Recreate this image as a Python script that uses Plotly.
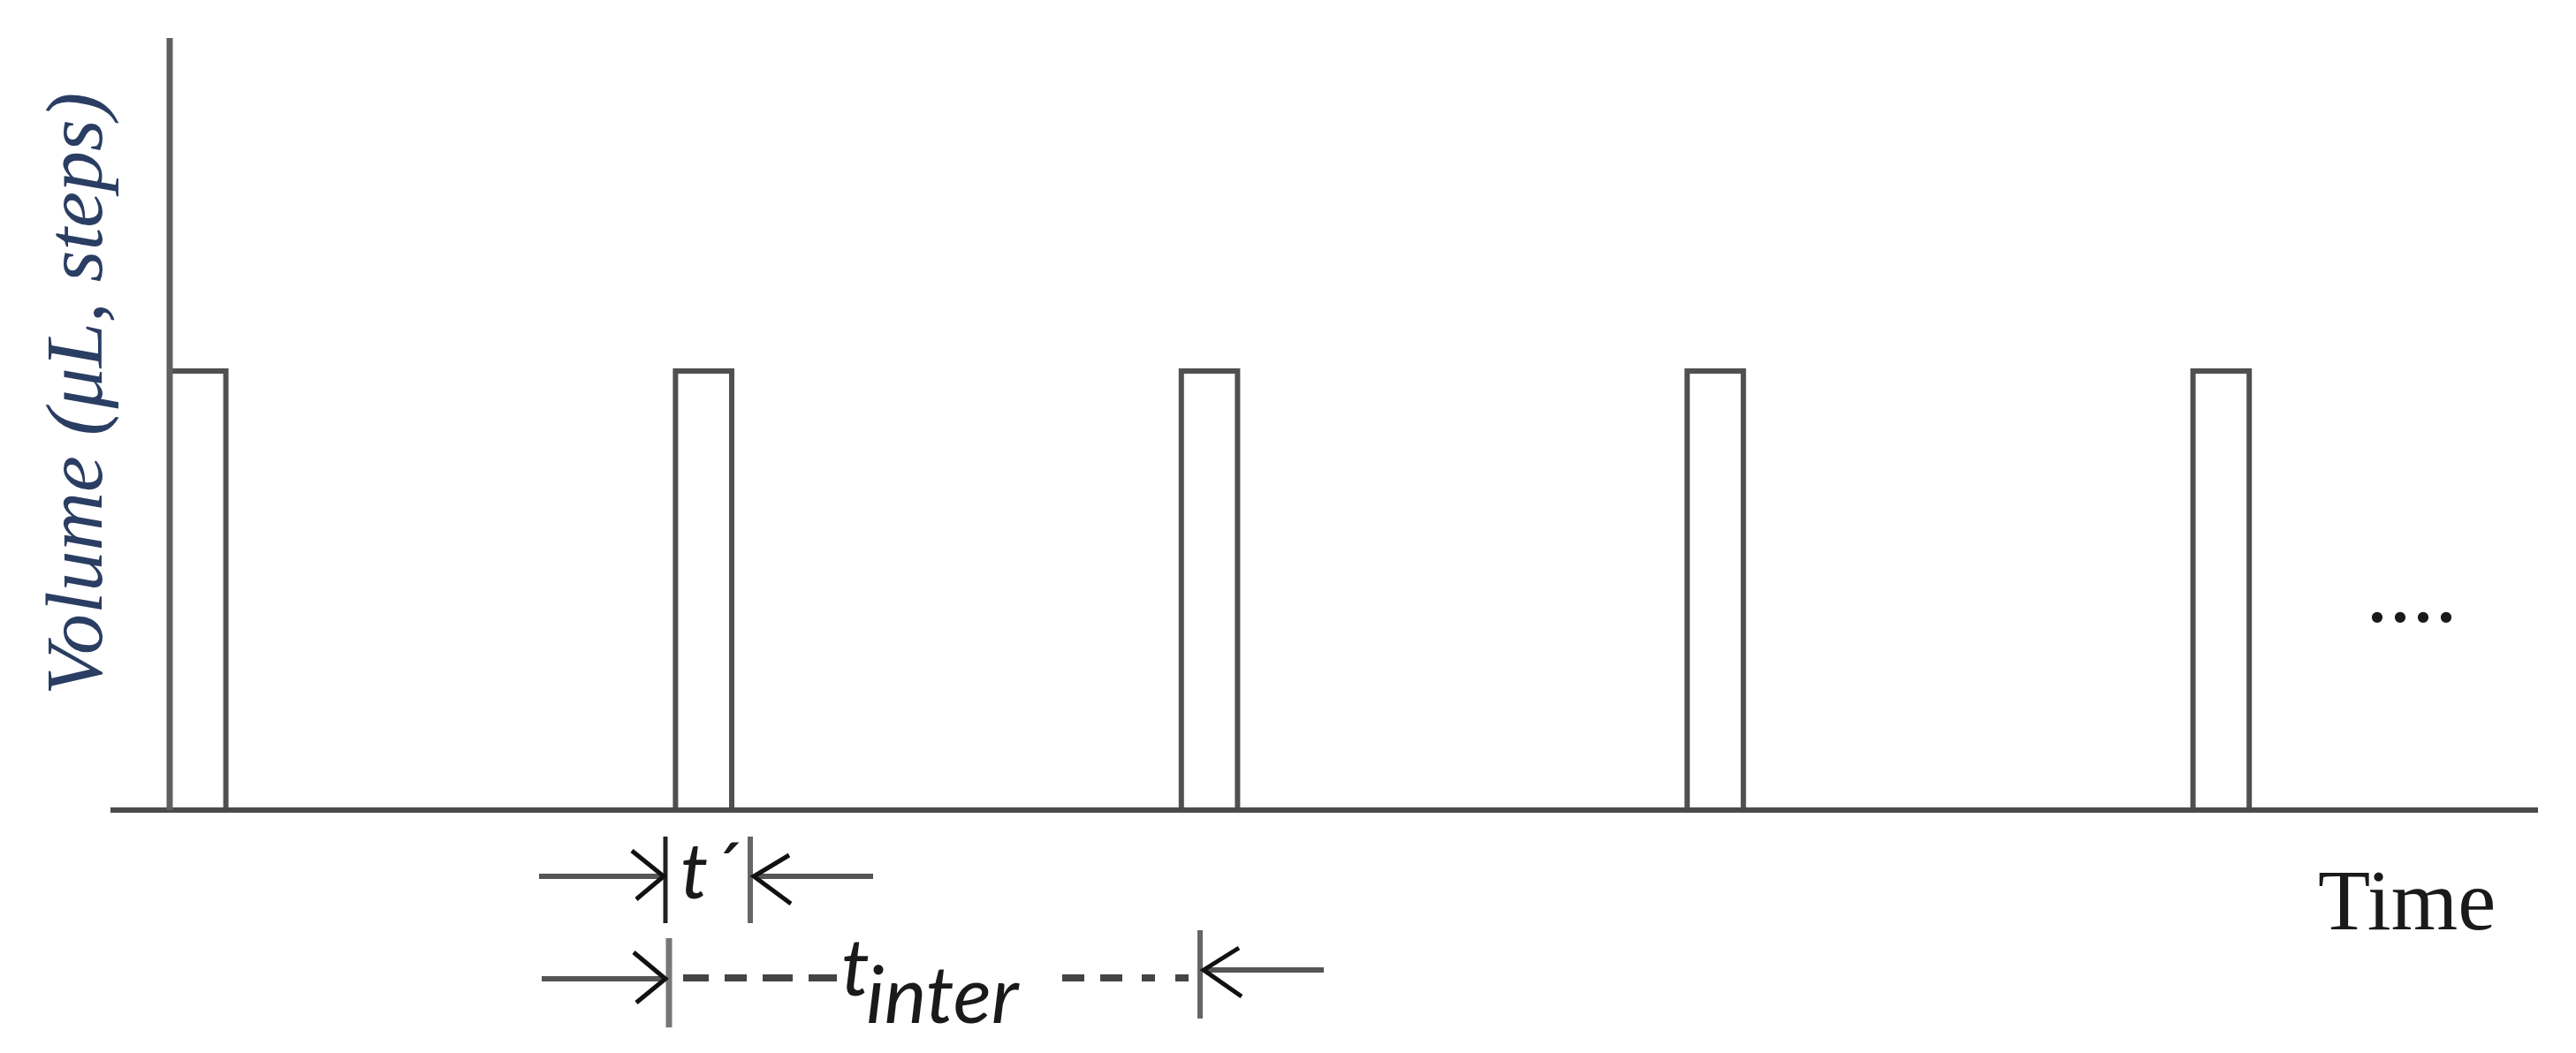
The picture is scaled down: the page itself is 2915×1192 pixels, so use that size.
import plotly.graph_objects as go

# ---- data (schematic pulse train) ----
pulse_starts = [0, 9, 18, 27, 36]   # time units
pulse_width = 1                      # t'
pulse_height = 1                     # volume units

y_title = "Volume (μL, steps)"
x_title = "Time"
ellipsis = "...."

# ---- figure geometry (pixels) ----
FW, FH = 2915, 1192
L, R, T, B = 125, 2872, 43, 925
W, H = R - L, B - T
X0PX, UNIT_X = 192, 63.6        # pixel of x=0 and px per time unit
Y0PX, UNIT_Y = 917, 497         # pixel of y=0 and px per volume unit

xr = [(L - X0PX) / UNIT_X, (R - X0PX) / UNIT_X]
yr = [(Y0PX - B) / UNIT_Y, (Y0PX - T) / UNIT_Y]


def px(x):
    return (x - L) / W


def py(y):
    return (B - y) / H


# build pulse outlines from the data
xs, ys = [], []
for s in pulse_starts:
    xs += [s, s, s + pulse_width, s + pulse_width, None]
    ys += [0, pulse_height, pulse_height, 0, None]

fig = go.Figure()
fig.add_trace(go.Scatter(x=xs, y=ys, mode="lines",
                         line=dict(color="#505050", width=6),
                         hoverinfo="skip", showlegend=False))

shapes = []
# axes
shapes.append(dict(type="line", xref="x", yref="y", x0=xr[0], x1=xr[1], y0=0, y1=0,
                   line=dict(color="#4a4a4a", width=6), layer="above"))
shapes.append(dict(type="line", xref="x", yref="y", x0=0, x1=0, y0=0, y1=yr[1],
                   line=dict(color="#606060", width=7), layer="above"))


def seg(x0, y0, x1, y1, color, width):
    shapes.append(dict(type="line", xref="paper", yref="paper",
                       x0=px(x0), y0=py(y0), x1=px(x1), y1=py(y1),
                       line=dict(color=color, width=width)))


def vee(pts, color="#111111", width=5):
    d = "M " + " L ".join(f"{px(a):.6f},{py(b):.6f}" for a, b in pts)
    shapes.append(dict(type="path", xref="paper", yref="paper", path=d,
                       line=dict(color=color, width=width)))


# t' dimension
seg(610, 992, 751, 992, "#555555", 6)
seg(753, 947, 753, 1045, "#222222", 5)
vee([(715, 963), (751, 992), (720, 1018)])
seg(853, 992, 988, 992, "#555555", 6)
seg(849, 947, 849, 1045, "#666666", 6)
vee([(893, 968), (853, 992), (895, 1023)])

# t_inter dimension
seg(613, 1108, 753, 1108, "#555555", 6)
seg(757, 1062, 757, 1163, "#777777", 7)
vee([(717, 1078), (753, 1108), (720, 1135)])
for a, b in [(773, 802), (820, 845), (863, 897), (915, 947),
             (1202, 1227), (1245, 1270), (1292, 1307), (1330, 1345)]:
    seg(a, 1107, b, 1107, "#444444", 8)
seg(1362, 1098, 1498, 1098, "#555555", 6)
seg(1358, 1053, 1358, 1153, "#666666", 6)
vee([(1402, 1073), (1362, 1098), (1405, 1128)])

ann = []


def text(t, x, y, size, family, color="#1a1a1a", xanchor="center", angle=0):
    ann.append(dict(text=t, xref="paper", yref="paper", x=px(x), y=py(y),
                    xanchor=xanchor, yanchor="middle", showarrow=False,
                    textangle=angle, font=dict(size=size, family=family, color=color)))


text(f"<i>{y_title}</i>", 84, 446, 92, "Liberation Serif", color="#2a3d62", angle=-90)
text(x_title, 2723, 1019, 97, "Liberation Serif")
text(ellipsis, 2729, 668, 104, "Liberation Serif")
text("<i>t´</i>", 768, 983, 88, "Lato", xanchor="left")
text("<i>t</i>", 950, 1092, 90, "Lato", xanchor="left")
text("<i>inter</i>", 978, 1123, 90, "Lato", xanchor="left")

fig.update_layout(
    width=FW, height=FH, autosize=False,
    margin=dict(l=L, r=FW - R, t=T, b=FH - B, pad=0),
    paper_bgcolor="white", plot_bgcolor="white",
    xaxis=dict(range=xr, visible=False, showgrid=False, zeroline=False),
    yaxis=dict(range=yr, visible=False, showgrid=False, zeroline=False),
    shapes=shapes, annotations=ann, showlegend=False,
)

fig.write_html("out.html", config={"displayModeBar": False},
               post_script="document.body.style.margin='0';document.body.style.overflow='hidden';")
